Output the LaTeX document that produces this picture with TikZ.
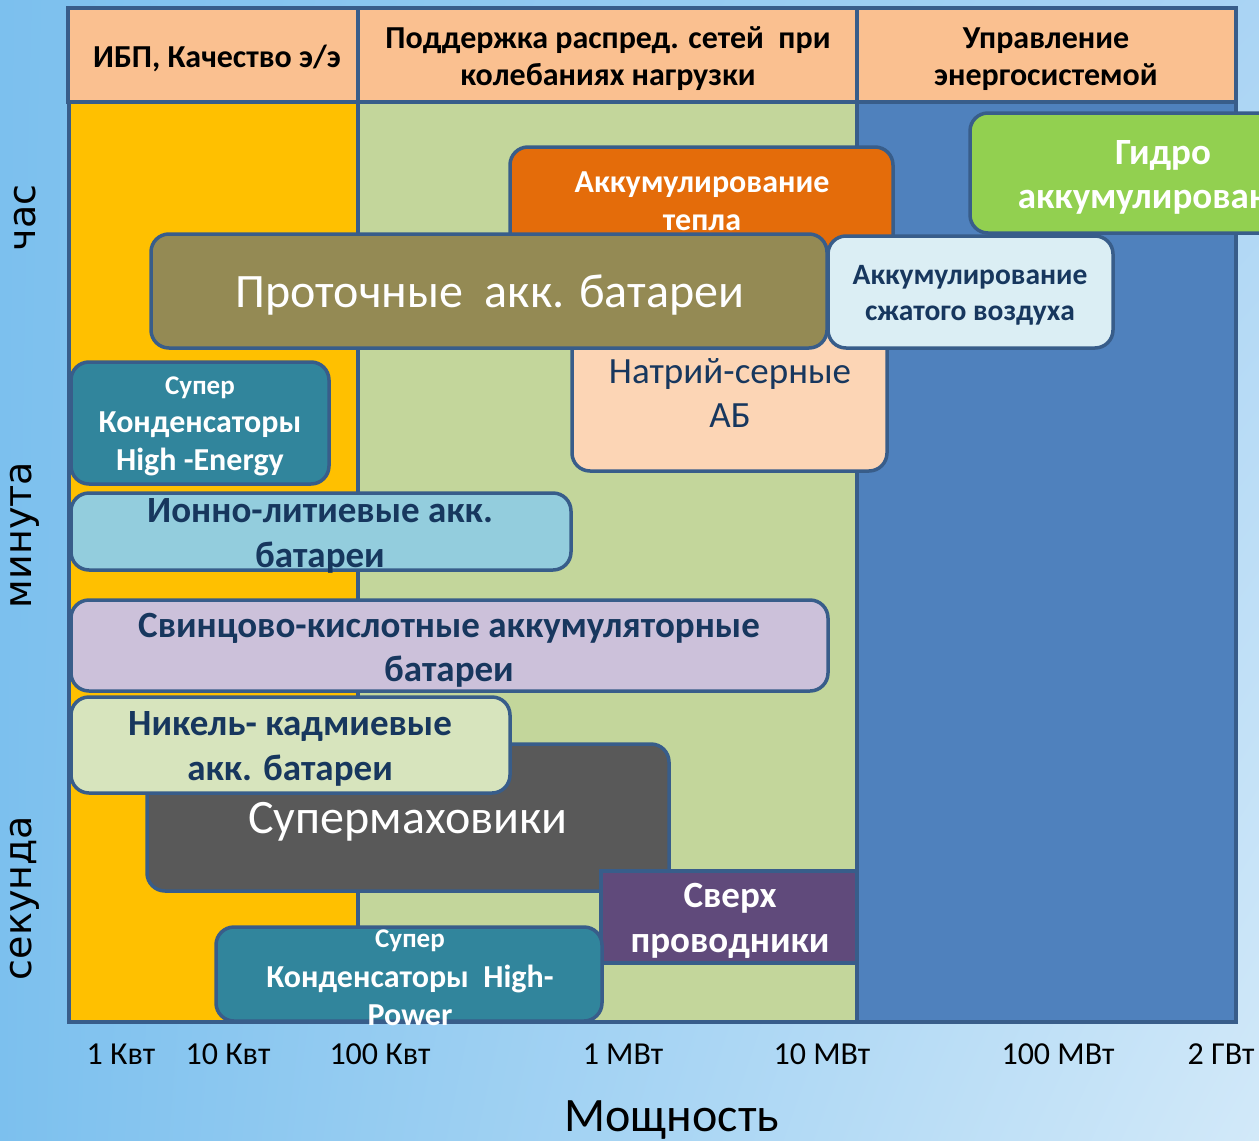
\documentclass[tikz,border=0pt]{standalone}
\usepackage{fontspec}
\setmainfont{Carlito}
\newfontfamily\axisfont{DejaVu Sans}
\usetikzlibrary{fit,shadings}
\definecolor{frame}{RGB}{56,93,138}
\definecolor{hdr}{RGB}{250,192,144}
\definecolor{ups}{RGB}{255,192,0}
\definecolor{grid}{RGB}{195,214,155}
\definecolor{sysblue}{RGB}{79,129,189}
\definecolor{heat}{RGB}{228,108,10}
\definecolor{hydro}{RGB}{146,208,80}
\definecolor{flow}{RGB}{148,138,84}
\definecolor{air}{RGB}{219,238,244}
\definecolor{sodium}{RGB}{252,213,181}
\definecolor{teal}{RGB}{49,133,156}
\definecolor{ion}{RGB}{147,205,221}
\definecolor{lead}{RGB}{204,193,218}
\definecolor{nickel}{RGB}{215,228,189}
\definecolor{fly}{RGB}{89,89,89}
\definecolor{smes}{RGB}{96,74,123}
\definecolor{navy}{RGB}{23,55,94}
\definecolor{bgA}{RGB}{124,192,238}
\definecolor{bgB}{RGB}{170,212,244}
\definecolor{bgC}{RGB}{210,233,249}
\tikzset{
  area/.style={inner sep=0pt, outer sep=0pt, fill=#1},
  hcell/.style={inner sep=0pt, outer sep=0pt, fill=hdr, draw=frame, line width=3.5pt},
  rbox/.style={inner sep=0pt, outer sep=0pt, fill=#1, draw=frame, line width=3.5pt, rounded corners=18pt},
  sbox/.style={inner sep=0pt, outer sep=0pt, fill=#1, draw=frame, line width=3.5pt},
  frameline/.style={draw=frame, line width=3.5pt},
  htext/.style={font=\bfseries\fontsize{32}{37}\selectfont, align=center, text=black},
  btext/.style n args={2}{font=\bfseries\fontsize{#1}{#2}\selectfont, align=center},
  rtext/.style n args={2}{font=\fontsize{#1}{#2}\selectfont, align=center},
  tick/.style={font=\fontsize{32}{36}\selectfont, text=black},
  ylab/.style={font=\axisfont\fontsize{38}{44}\selectfont, rotate=90, text=black},
}
\begin{document}
\begin{tikzpicture}[x=1pt,y=-1pt]
\path[use as bounding box] (0,0) rectangle (1259,1141);
\clip (0,0) rectangle (1259,1141);
\shade[upper left=bgA, lower left=bgA, upper right=bgB, lower right=bgC] (0,0) rectangle (1259,1141);
% body columns
\node[area=ups, fit={(69,102) (358,1022)}] (colA) {};
\node[area=grid, fit={(358,102) (857,1022)}] (colB) {};
\node[area=sysblue, fit={(857,102) (1236,1022)}] (colC) {};
\draw[frameline] (69,102) rectangle (1236,1022);
\draw[frameline] (358,102) -- (358,1022);
\draw[frameline] (857,102) -- (857,1022);
% header
\node[hcell, fit={(68,8) (358,102)}] (h1) {};
\node[hcell, fit={(358,8) (857,102)}] (h2) {};
\node[hcell, fit={(857,8) (1236,102)}] (h3) {};
\node[htext] (h1t) at (217,58) {ИБП, Качество э/э};
\node[htext] (h2t) at (608,59) {Поддержка распред. сетей\ \ при\\колебаниях нагрузки};
\node[htext] (h3t) at (1046,59) {Управление\\энергосистемой};
% boxes
\node[rbox=fly, fit={(147,744) (669,891)}] (flyb) {};
\node[rbox=nickel, fit={(71,697) (510,793)}] (nib) {};
\node[rbox=lead, fit={(71,600) (828,691)}] (leadb) {};
\node[rbox=ion, fit={(71,493) (571,570)}] (ionb) {};
\node[rbox=teal, fit={(71,362) (329,484)}] (sceb) {};
\node[rbox=sodium, fit={(572,300) (887,471)}] (nasb) {};
\node[rbox=heat, fit={(510,147) (893,300)}] (heatb) {};
\node[btext={32}{38}, text=white] (heatt) at (702,201) {Аккумулирование\\тепла};
\node[rbox=flow, fit={(151,234) (827,348)}] (flowb) {};
\node[rbox=air, fit={(828,236) (1113,348)}] (airb) {};
\node[rbox=hydro, fit={(970,113) (1360,233)}] (hydb) {};
\node[sbox=smes, fit={(601,871) (857,963)}] (smesb) {};
\node[rbox=teal, fit={(216,927) (602,1021)}] (scpb) {};
% texts
\node[rtext={48}{55}, text=white] (flowt) at (490,295) {Проточные\ \ акк. батареи};
\node[btext={29.5}{36}, text=navy] (airt) at (970,295) {Аккумулирование\\сжатого воздуха};
\node[btext={37}{44}, text=white] (hydt) at (1163,177) {Гидро\\аккумулирование};
\node[rtext={37}{44}, text=navy] (nast) at (730,393) {Натрий-серные\\АБ};
\node[btext={27}{30}, text=white] (scet1) at (200,388) {Супер};
\node[btext={32}{38}, text=white] (scet2) at (200,444) {Конденсаторы\\High -Energy};
\node[btext={37}{45}, text=navy] (iont) at (320,536) {Ионно-литиевые акк.\\батареи};
\node[btext={37}{44}, text=navy] (leadt) at (449,650) {Свинцово-кислотные аккумуляторные\\батареи};
\node[btext={37}{45}, text=navy] (nit) at (290,749) {Никель- кадмиевые\\акк. батареи};
\node[rtext={48}{55}, text=white] (flyt) at (408,822) {Супермаховики};
\node[btext={37}{45}, text=white] (smest) at (730,921) {Сверх\\проводники};
\node[btext={27}{30}, text=white] (scpt1) at (410,941) {Супер};
\node[btext={32}{38}, text=white] (scpt2) at (410,995) {Конденсаторы\ \ High-\\Power};
% axes
\node[tick] (x1) at (121,1054) {1 Квт};
\node[tick] (x2) at (228,1054) {10 Квт};
\node[tick] (x3) at (380,1054) {100 Квт};
\node[tick] (x4) at (623,1054) {1 МВт};
\node[tick] (x5) at (822,1054) {10 МВт};
\node[tick] (x6) at (1058,1054) {100 МВт};
\node[tick] (x7) at (1221,1054) {2 ГВт};
\node[rtext={48}{55}, text=black] (xlab) at (672,1120) {Мощность};
\node[ylab] (y1) at (25,218) {час};
\node[ylab] (y2) at (25,535) {минута};
\node[ylab] (y3) at (25,898) {секунда};
\end{tikzpicture}
\end{document}
